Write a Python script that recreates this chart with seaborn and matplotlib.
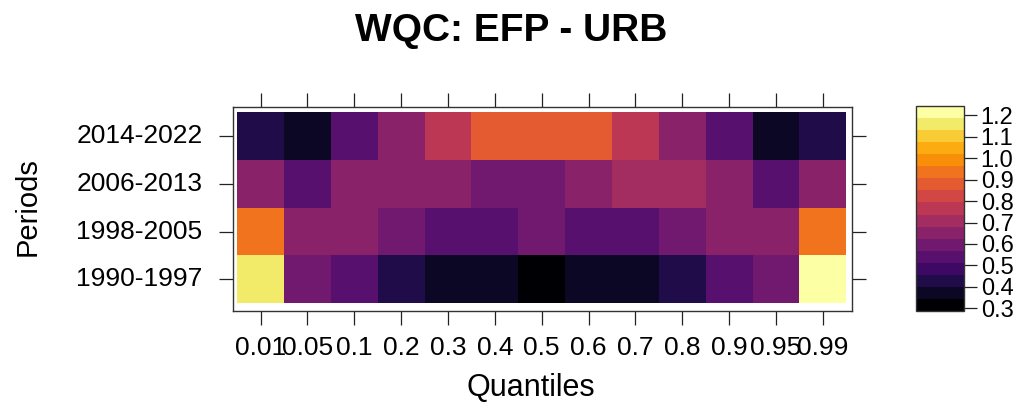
import numpy as np
import pandas as pd
import seaborn as sns
import matplotlib.pyplot as plt
from matplotlib.colors import ListedColormap

#%% Data
periods = ["2014-2022", "2006-2013", "1998-2005", "1990-1997"]
quantiles = ["0.01", "0.05", "0.1", "0.2", "0.3", "0.4", "0.5",
             "0.6", "0.7", "0.8", "0.9", "0.95", "0.99"]

wqc_2014 = [0.43, 0.37, 0.54, 0.66, 0.78, 0.87, 0.87, 0.87, 0.78, 0.66, 0.54, 0.37, 0.43]
wqc_2006 = [0.66, 0.54, 0.66, 0.66, 0.66, 0.60, 0.60, 0.67, 0.71, 0.71, 0.66, 0.54, 0.66]
wqc_1998 = [0.93, 0.66, 0.66, 0.60, 0.54, 0.54, 0.60, 0.54, 0.54, 0.60, 0.66, 0.66, 0.93]
wqc_1990 = [1.16, 0.60, 0.54, 0.43, 0.37, 0.37, 0.29, 0.37, 0.37, 0.43, 0.54, 0.60, 1.24]

cbar_ticks = [0.3, 0.4, 0.5, 0.6, 0.7, 0.8, 0.9, 1.0, 1.1, 1.2]

df = pd.DataFrame([wqc_2014, wqc_2006, wqc_1998, wqc_1990],
                  index=periods, columns=quantiles)

#%% Plot
sns.set_style("white")
plt.rcParams['font.family'] = ['Liberation Sans', 'DejaVu Sans']
plt.rcParams['text.color'] = 'black'
plt.rcParams['xtick.color'] = 'black'
plt.rcParams['ytick.color'] = 'black'

# 17 discrete levels like the lattice colour key
cmap = ListedColormap(plt.get_cmap("inferno")(np.linspace(0, 1, 17)))
vmin, vmax = 0.287, 1.244

fig = plt.figure(figsize=(10.34, 4.08), dpi=100)
ax = fig.add_axes([0.2253, 0.2377, 0.5986, 0.5])
cax = fig.add_axes([0.8859, 0.2377, 0.0464, 0.5025])

sns.heatmap(df, cmap=cmap, vmin=vmin, vmax=vmax, ax=ax, cbar_ax=cax,
            cbar_kws={"ticks": cbar_ticks})

ax.set_xlim(-0.09, 13.12)
ax.set_ylim(4.16, -0.1)
for s in ax.spines.values():
    s.set_visible(True)
    s.set_color("#333333")
    s.set_linewidth(1.0)
ax.tick_params(axis="both", which="both", direction="out", length=10, width=0.9,
               color="#222222", top=True, right=True, bottom=True, left=True,
               labeltop=False, labelright=False)
ax.tick_params(axis="x", labelsize=19, pad=8, rotation=0, labelcolor="black")
ax.tick_params(axis="y", labelsize=19, pad=12, rotation=0, labelcolor="black")
ax.set_xlabel("")
ax.set_ylabel("")

cb = ax.collections[0].colorbar
cb.outline.set_visible(True)
cb.outline.set_linewidth(1.0)
cb.outline.set_edgecolor("#333333")
cb.ax.tick_params(length=9, width=0.9, color="#222222", pad=3, labelsize=17,
                  labelcolor="black")
cb.ax.set_yticklabels([f"{t:.1f}" for t in cbar_ticks])

fig.text(0.494, 0.925, "WQC: EFP - URB", ha="center", va="center",
         fontsize=28, fontweight="bold")
fig.text(0.027, 0.493, "Periods", ha="center", va="center", rotation=90, fontsize=21)
fig.text(0.513, 0.05, "Quantiles", ha="center", va="center", fontsize=22)

fig.savefig("out.png", dpi=100)
